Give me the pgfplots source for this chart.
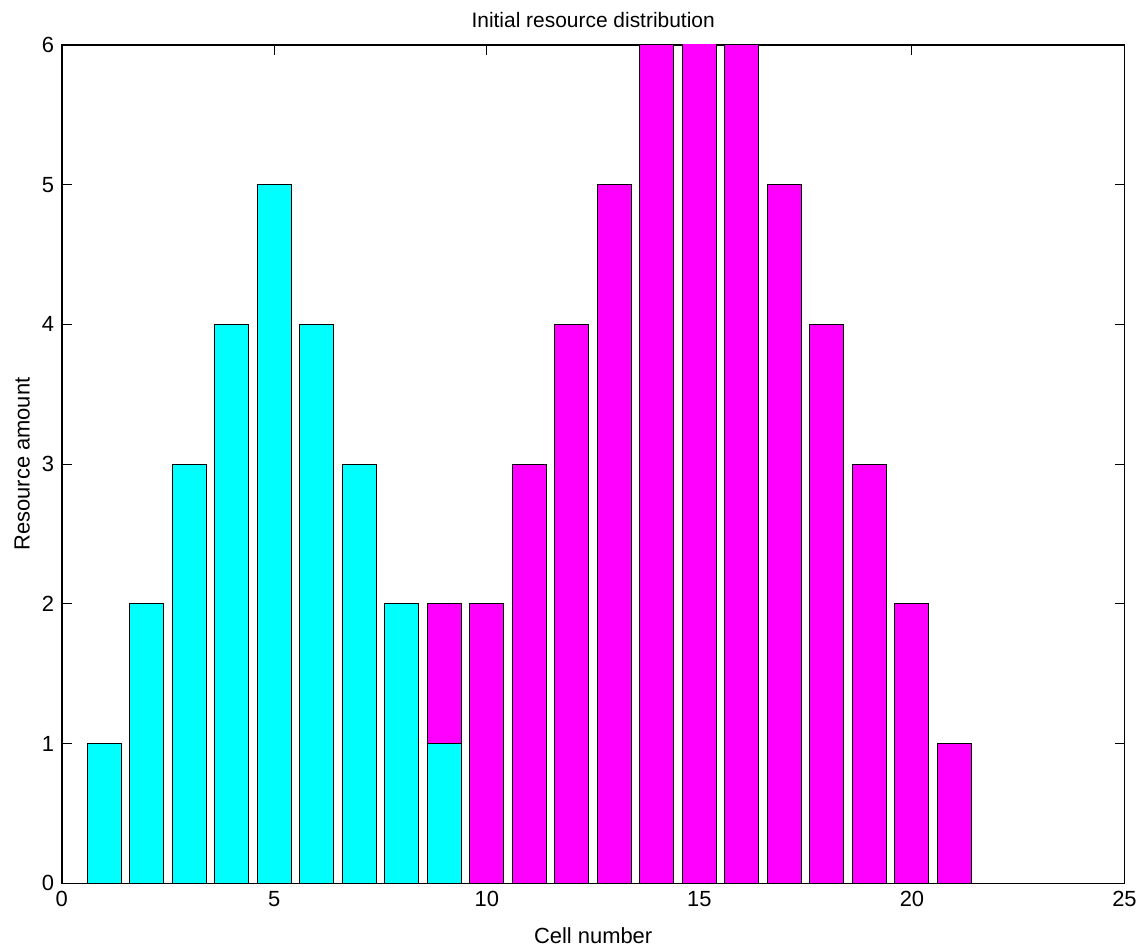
\documentclass[border=0pt]{standalone}
\usepackage{fontspec}
\setmainfont{Liberation Sans}
\usepackage{pgfplots}
\pgfplotsset{compat=1.18}
\definecolor{cy}{RGB}{0,255,255}
\definecolor{mg}{RGB}{255,0,255}
\begin{document}
\fontsize{11}{13}\selectfont
\begin{tikzpicture}
\begin{axis}[
  scale only axis,
  width=533pt, height=420.5pt,
  xmin=0, xmax=25, ymin=0, ymax=6,
  xtick={0,5,10,15,20,25},
  ytick={0,1,2,3,4,5,6},
  tick align=inside,
  major tick length=5pt,
  tick style={black, line width=0.5pt},
  axis line style={line width=0.7pt},
  /pgf/number format/assume math mode=true,
  ticklabel style={font=\fontsize{11}{13}\selectfont},
  title={Initial resource distribution},
  title style={font=\fontsize{10.5}{12}\selectfont, yshift=-1.5pt},
  xlabel={Cell number},
  ylabel={Resource amount},
  label style={font=\fontsize{11}{13}\selectfont},
  xlabel style={yshift=-3pt},
  ylabel style={yshift=-1.5pt},
  ybar stacked,
  bar width=0.8,
  clip=true,
]
\addplot[fill=cy, draw=black, line width=0.5pt] coordinates {
(1,1) (2,2) (3,3) (4,4) (5,5) (6,4) (7,3) (8,2) (9,1)
(10,0) (11,0) (12,0) (13,0) (14,0) (15,0) (16,0) (17,0) (18,0) (19,0) (20,0) (21,0)};
\addplot[fill=mg, draw=black, line width=0.5pt] coordinates {
(1,0) (2,0) (3,0) (4,0) (5,0) (6,0) (7,0) (8,0) (9,1)
(10,2) (11,3) (12,4) (13,5) (14,6) (15,7) (16,6) (17,5) (18,4) (19,3) (20,2) (21,1)};
\end{axis}
\path ([xshift=-31pt,yshift=-30.5pt]current axis.south west) rectangle ([xshift=8pt,yshift=22.5pt]current axis.north east);
\end{tikzpicture}
\end{document}
